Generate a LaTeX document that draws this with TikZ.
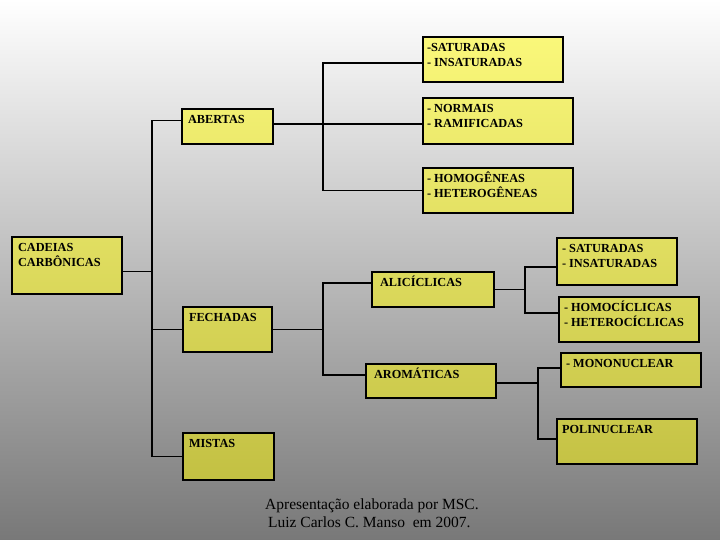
\documentclass[tikz,border=0pt]{standalone}
\usepackage{fontspec}
\setmainfont{Liberation Serif}
\usetikzlibrary{calc}
\definecolor{boxyellow}{RGB}{255,250,0}
\definecolor{bgmiddle}{RGB}{198,198,198}
\definecolor{bgbottom}{RGB}{120,120,120}
\newcommand{\celltext}[3]{\parbox[c][#2pt][t]{#1pt}{\rule{0pt}{14.5pt}#3}}

\begin{document}
\begin{tikzpicture}[x=1pt, y=-1pt,
  cell/.style={draw, line width=1.1pt, fill=boxyellow, fill opacity=0.5, text opacity=1,
    anchor=north west, inner xsep=#1, inner ysep=0pt, outer sep=0pt,
    font=\bfseries\fontsize{12.3}{15}\selectfont},
  cell/.default=6pt,
  link/.style={line width=1.1pt}
]
\shade[top color=white, middle color=bgmiddle, bottom color=bgbottom] (0,0) rectangle (720,540);

% first level
\node[cell] (cad) at (12,237) {\celltext{98}{57}{CADEIAS\\CARBÔNICAS}};
\node[cell] (ab) at (182,109) {\celltext{79}{35}{ABERTAS}};
\node[cell] (fe) at (183,307) {\celltext{77}{45}{FECHADAS}};
\node[cell] (mi) at (183,433) {\celltext{79}{47}{MISTAS}};

% abertas
\node[cell=4pt] (sat1) at (423,37) {\celltext{132}{45}{-SATURADAS\\- INSATURADAS}};
\node[cell=4pt] (norm) at (423,98) {\celltext{142}{46}{- NORMAIS\\- RAMIFICADAS}};
\node[cell=4pt] (homog) at (423,168) {\celltext{142}{45}{- HOMOGÊNEAS\\- HETEROGÊNEAS}};

% fechadas
\node[cell=8pt] (alic) at (372,272) {\celltext{106}{35}{ALICÍCLICAS}};
\node[cell=8pt] (arom) at (366,364) {\celltext{114}{34}{AROMÁTICAS}};
\node[cell=5pt] (sat2) at (557,238) {\celltext{110}{47}{- SATURADAS\\- INSATURADAS}};
\node[cell=5pt] (homoc) at (559,297) {\celltext{130}{45}{- HOMOCÍCLICAS\\- HETEROCÍCLICAS}};
\node[cell=5pt] (mono) at (561,353) {\celltext{130}{34}{- MONONUCLEAR}};
\node[cell=5pt] (poli) at (557,419) {\celltext{130}{45}{POLINUCLEAR}};

\node[font=\fontsize{15.5}{18}\selectfont, align=left, anchor=west, inner sep=0pt] (credit) at (265,513)
  {Apresentação elaborada por MSC.\\\hspace*{3pt}Luiz Carlos C. Manso~ em 2007.};

% connectors
\draw[link] ([yshift=-6pt]cad.east) -- ++(30,0) coordinate (jA);
\draw[link] (jA) |- ([yshift=6pt]ab.west);
\draw[link] (jA) |- (fe.west);
\draw[link] (jA) |- (mi.west);

\draw[link] ([yshift=2.5pt]ab.east) -- ++(50,0) coordinate (jB) -- ([yshift=-3pt]norm.west);
\draw[link] (jB) |- ([yshift=-3.5pt]sat1.west);
\draw[link] (jB) |- (homog.west);

\draw[link] (fe.east) -- ++(51,0) coordinate (jC);
\draw[link] (jC) |- ([yshift=6.5pt]alic.west);
\draw[link] (jC) |- ([yshift=6pt]arom.west);

\draw[link] (alic.east) -- ++(31,0) coordinate (jD);
\draw[link] (jD) |- ([yshift=-5.5pt]sat2.west);
\draw[link] (jD) |- ([yshift=6.5pt]homoc.west);

\draw[link] ([yshift=-2pt]arom.east) -- ++(42,0) coordinate (jE);
\draw[link] (jE) |- ([yshift=2pt]mono.west);
\draw[link] (jE) |- ([yshift=2.5pt]poli.west);
\end{tikzpicture}
\end{document}
